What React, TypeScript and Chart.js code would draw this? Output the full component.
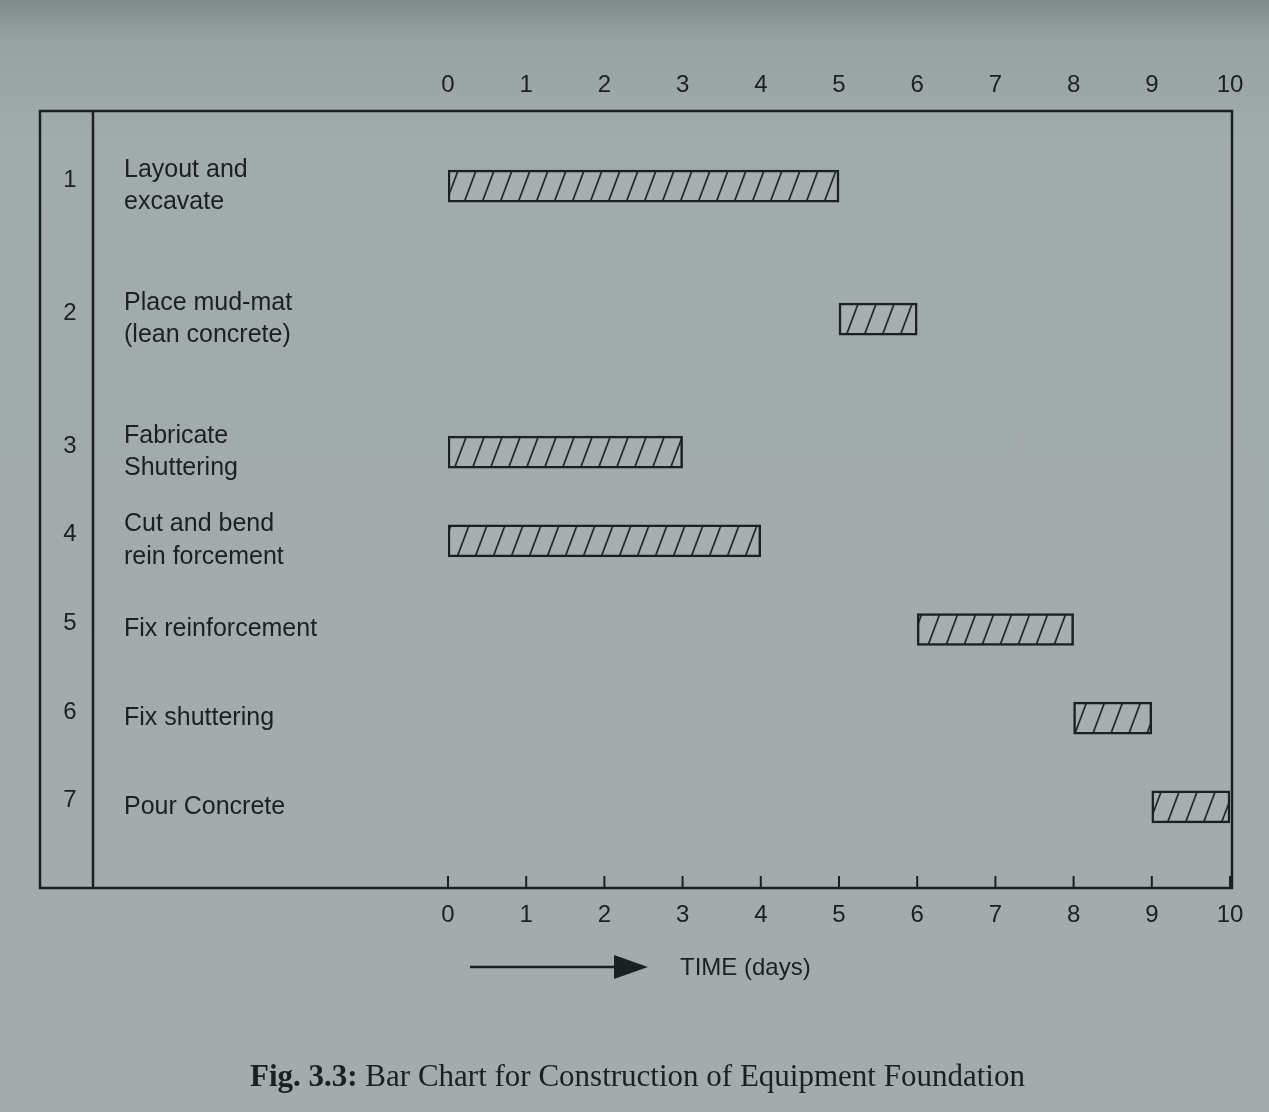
import React, { useEffect, useRef } from "react";
import { Chart, registerables } from "chart.js";

Chart.register(...registerables);

// ---------- data ----------
const taskNumbers: string[] = ["1", "2", "3", "4", "5", "6", "7"];
const taskNames: string[][] = [
  ["Layout and", "excavate"],
  ["Place mud-mat", "(lean concrete)"],
  ["Fabricate", "Shuttering"],
  ["Cut and bend", "rein forcement"],
  ["Fix reinforcement"],
  ["Fix shuttering"],
  ["Pour Concrete"],
];
const taskStart: number[] = [0, 5, 0, 0, 6, 8, 9];
const taskEnd: number[] = [5, 6, 3, 4, 8, 9, 10];
const dayTicks: number[] = [0, 1, 2, 3, 4, 5, 6, 7, 8, 9, 10];
const axisTitle = "TIME (days)";
const captionBold = "Fig. 3.3:";
const captionText = " Bar Chart for Construction of Equipment Foundation";

// ---------- layout (row slots on a half-row grid, as printed) ----------
const ROW_SLOTS = [0, 3, 6, 8, 10, 12, 14];
const SLOT_COUNT = 15;

// ---------- styles ----------
const SANS = '"Liberation Sans", Arial, sans-serif';
const SERIF = '"Liberation Serif", "Times New Roman", serif';
const INK = "#1b2021";
const BAR_FILL = "#a6afae";
const HATCH = "#252c2c";

function makeHatch(): CanvasPattern | string {
  const c = document.createElement("canvas");
  c.width = 18;
  c.height = 48;
  const g = c.getContext("2d");
  if (!g) return BAR_FILL;
  g.fillStyle = BAR_FILL;
  g.fillRect(0, 0, 18, 48);
  g.strokeStyle = HATCH;
  g.lineWidth = 1.8;
  for (const off of [-18, 0, 18]) {
    g.beginPath();
    g.moveTo(off, 48);
    g.lineTo(off + 18, 0);
    g.stroke();
  }
  return g.createPattern(c, "repeat") || BAR_FILL;
}

const framePlugin = {
  id: "frame",
  beforeDatasetsDraw(chart: any) {
    const ctx: CanvasRenderingContext2D = chart.ctx;
    const xs = chart.scales.x;
    ctx.save();
    ctx.strokeStyle = INK;
    ctx.lineWidth = 2.5;
    ctx.strokeRect(40, 111, 1192, 777);
    ctx.beginPath();
    ctx.moveTo(93, 111);
    ctx.lineTo(93, 888);
    ctx.stroke();
    ctx.lineWidth = 2;
    dayTicks.forEach((v) => {
      const px = xs.getPixelForValue(v);
      ctx.beginPath();
      ctx.moveTo(px, 888);
      ctx.lineTo(px, 876);
      ctx.stroke();
    });
    ctx.restore();
  },
  afterDraw(chart: any) {
    const ctx: CanvasRenderingContext2D = chart.ctx;
    const ys = chart.scales.y;
    ctx.save();
    ctx.fillStyle = INK;
    ctx.strokeStyle = INK;
    // row numbers
    ctx.font = `24px ${SANS}`;
    ctx.textAlign = "center";
    ctx.textBaseline = "middle";
    taskNumbers.forEach((n, i) => {
      const py = ys.getPixelForValue(ROW_SLOTS[i]);
      ctx.fillText(n, 70, py - 6);
    });
    // arrow
    ctx.lineWidth = 2.5;
    ctx.beginPath();
    ctx.moveTo(470, 967);
    ctx.lineTo(620, 967);
    ctx.stroke();
    ctx.beginPath();
    ctx.moveTo(614, 955);
    ctx.lineTo(648, 967);
    ctx.lineTo(614, 979);
    ctx.closePath();
    ctx.fill();
    // axis title
    ctx.textAlign = "left";
    ctx.font = `24px ${SANS}`;
    ctx.fillText(axisTitle, 680, 968);
    // caption
    ctx.textBaseline = "alphabetic";
    ctx.font = `bold 31px ${SERIF}`;
    const bw = ctx.measureText(captionBold).width;
    ctx.fillText(captionBold, 250, 1086);
    ctx.font = `31px ${SERIF}`;
    ctx.fillText(captionText, 250 + bw, 1086);
    ctx.restore();
  },
};

export default function App() {
  const ref = useRef<HTMLCanvasElement | null>(null);

  useEffect(() => {
    const canvas = ref.current;
    if (!canvas) return;
    const labels: (string | string[])[] = Array.from({ length: SLOT_COUNT }, () => "");
    const data: ([number, number] | null)[] = Array.from({ length: SLOT_COUNT }, () => null);
    ROW_SLOTS.forEach((s, i) => {
      labels[s] = taskNames[i];
      data[s] = [taskStart[i], taskEnd[i]];
    });
    const tickFont = { family: SANS, size: 24, lineHeight: 1.2 };
    const chart = new Chart(canvas, {
      type: "bar",
      data: {
        labels,
        datasets: [
          {
            data: data as any,
            backgroundColor: makeHatch() as any,
            borderColor: INK,
            borderWidth: 2.5,
            borderSkipped: false,
            barThickness: 32,
            xAxisID: "x",
            yAxisID: "y",
          },
        ],
      },
      options: {
        indexAxis: "y",
        responsive: false,
        animation: false,
        layout: { padding: { left: 124, right: 39, top: 64, bottom: 183 } },
        plugins: {
          legend: { display: false },
          tooltip: { enabled: false },
          title: { display: false },
        },
        scales: {
          x: {
            type: "linear",
            position: "bottom",
            min: 0,
            max: 10,
            afterBuildTicks: (s: any) => {
              s.ticks = dayTicks.map((v) => ({ value: v }));
            },
            afterFit: (s: any) => {
              s.height = 100;
            },
            ticks: { padding: 0, font: tickFont, color: INK, autoSkip: false, maxRotation: 0 },
            grid: { display: false, drawTicks: true, tickLength: 72 },
            border: { display: false },
          },
          x2: {
            type: "linear",
            position: "top",
            min: 0,
            max: 10,
            afterBuildTicks: (s: any) => {
              s.ticks = dayTicks.map((v) => ({ value: v }));
            },
            afterFit: (s: any) => {
              s.height = 100;
            },
            ticks: { padding: 0, font: tickFont, color: INK, autoSkip: false, maxRotation: 0 },
            grid: { display: false, drawTicks: true, tickLength: 64 },
            border: { display: false },
          },
          y: {
            type: "category",
            position: "left",
            offset: true,
            afterFit: (s: any) => {
              s.width = 448 - 124;
            },
            ticks: {
              crossAlign: "far",
              autoSkip: false,
              padding: 0,
              font: { family: SANS, size: 25, lineHeight: 1.3 },
              color: INK,
            },
            grid: { display: false, drawTicks: false },
            border: { display: false },
          },
        },
      } as any,
      plugins: [framePlugin],
    });
    return () => chart.destroy();
  }, []);

  return (
    <div
      style={{
        position: "fixed",
        left: 0,
        top: 0,
        width: 1269,
        height: 1112,
        background:
          "linear-gradient(to bottom, #7f8a8a 0px, #98a2a2 40px, #a2abab 140px, #a3acab 100%)",
      }}
    >
      <canvas ref={ref} width={1269} height={1112} style={{ display: "block" }} />
    </div>
  );
}
